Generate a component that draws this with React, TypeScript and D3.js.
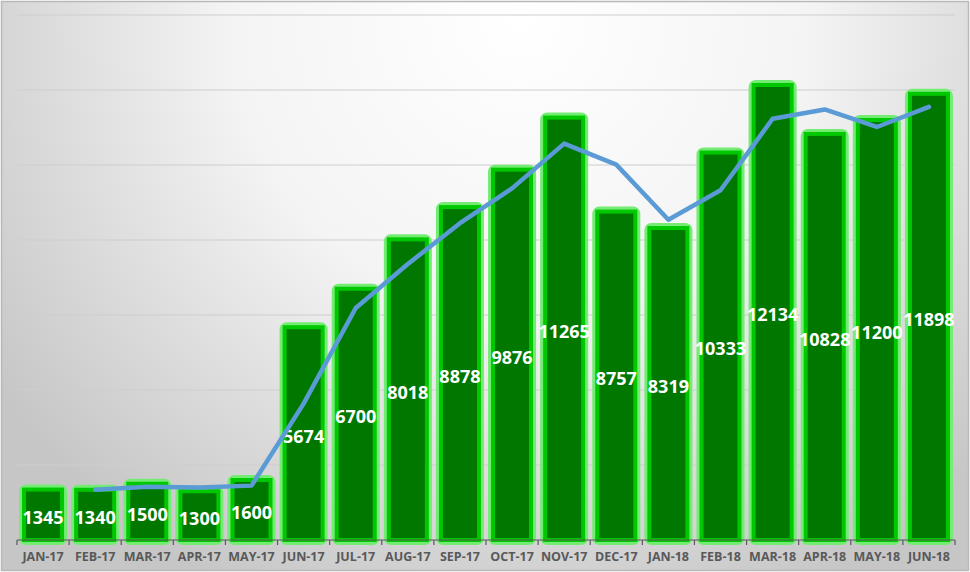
import React, { useEffect, useRef } from "react";
import * as d3 from "d3";

const months = [
  "JAN-17", "FEB-17", "MAR-17", "APR-17", "MAY-17", "JUN-17",
  "JUL-17", "AUG-17", "SEP-17", "OCT-17", "NOV-17", "DEC-17",
  "JAN-18", "FEB-18", "MAR-18", "APR-18", "MAY-18", "JUN-18",
];

const sales = [
  1345, 1340, 1500, 1300, 1600, 5674, 6700, 8018, 8878, 9876, 11265, 8757,
  8319, 10333, 12134, 10828, 11200, 11898,
];

// trend line, starts at FEB-17
const trendMonths = months.slice(1);
const trend = [
  1342, 1420, 1400, 1450, 3637, 6187, 7359, 8448, 9377, 10570, 10011, 8538,
  9326, 11233, 11481, 11014, 11549,
];

const gridTicks = [2000, 4000, 6000, 8000, 10000, 12000, 14000];

const W = 970;
const H = 572;

const App: React.FC = () => {
  const svgRef = useRef<SVGSVGElement>(null);

  useEffect(() => {
    if (!svgRef.current) return;
    const svg = d3.select(svgRef.current);
    svg.selectAll("*").remove();

    const margin = { top: 15, right: 15, bottom: 32, left: 17 };
    const innerW = W - margin.left - margin.right;
    const innerH = H - margin.top - margin.bottom;

    const defs = svg.append("defs");
    const grad = defs
      .append("radialGradient")
      .attr("id", "bg")
      .attr("gradientUnits", "userSpaceOnUse")
      .attr("cx", 520)
      .attr("cy", 20)
      .attr("r", 640);
    grad.append("stop").attr("offset", "0%").attr("stop-color", "#ffffff");
    grad.append("stop").attr("offset", "45%").attr("stop-color", "#f4f4f4");
    grad.append("stop").attr("offset", "100%").attr("stop-color", "#c6c6c6");

    svg
      .append("rect")
      .attr("x", 1.5)
      .attr("y", 1.5)
      .attr("width", W - 3)
      .attr("height", H - 3)
      .attr("fill", "url(#bg)")
      .attr("stroke", "#b8b8b8")
      .attr("stroke-width", 1.5);

    const g = svg
      .append("g")
      .attr("transform", `translate(${margin.left},${margin.top})`);

    const x = d3.scaleBand().domain(months).range([0, innerW]).padding(0);
    const y = d3.scaleLinear().domain([0, 14000]).range([innerH, 0]);

    // gridlines
    g.append("g")
      .selectAll("line")
      .data(gridTicks)
      .enter()
      .append("line")
      .attr("x1", 0)
      .attr("x2", innerW)
      .attr("y1", (d) => y(d))
      .attr("y2", (d) => y(d))
      .attr("stroke", "#cdcdcd")
      .attr("stroke-width", 1.2);

    const bw = x.bandwidth() * 0.73;
    const barX = (d: string) => x(d)! + (x.bandwidth() - bw) / 2;

    // glow
    g.append("g")
      .selectAll("rect")
      .data(sales)
      .enter()
      .append("rect")
      .attr("x", (_, i) => barX(months[i]))
      .attr("y", (d) => y(d))
      .attr("width", bw)
      .attr("height", (d) => innerH - y(d))
      .attr("rx", 2)
      .attr("fill", "none")
      .attr("stroke", "#74ec74")
      .attr("stroke-width", 10)
      .attr("stroke-linejoin", "round");

    g.append("g")
      .selectAll("rect")
      .data(sales)
      .enter()
      .append("rect")
      .attr("x", (_, i) => barX(months[i]))
      .attr("y", (d) => y(d))
      .attr("width", bw)
      .attr("height", (d) => innerH - y(d))
      .attr("fill", "#007800")
      .attr("stroke", "#00c800")
      .attr("stroke-width", 4);

    // value labels
    g.append("g")
      .selectAll("text")
      .data(sales)
      .enter()
      .append("text")
      .attr("x", (_, i) => x(months[i])! + x.bandwidth() / 2)
      .attr("y", (d) => (y(d) + innerH) / 2 + 2)
      .attr("text-anchor", "middle")
      .attr("dominant-baseline", "central")
      .attr("font-family", "'Open Sans', sans-serif")
      .attr("font-weight", "bold")
      .attr("font-size", 18)
      .attr("fill", "#ffffff")
      .text((d) => d);

    // trend line
    const line = d3
      .line<number>()
      .x((_, i) => x(trendMonths[i])! + x.bandwidth() / 2)
      .y((d) => y(d));

    g.append("path")
      .datum(trend)
      .attr("fill", "none")
      .attr("stroke", "#5b9bd5")
      .attr("stroke-width", 4.5)
      .attr("stroke-linejoin", "round")
      .attr("stroke-linecap", "round")
      .attr("d", line);

    // x axis
    const axis = g.append("g").attr("transform", `translate(0,${innerH})`);
    axis
      .append("line")
      .attr("x1", 0)
      .attr("x2", innerW)
      .attr("stroke", "#595959")
      .attr("stroke-width", 1.2);
    axis
      .selectAll("line.tick")
      .data(d3.range(months.length + 1))
      .enter()
      .append("line")
      .attr("class", "tick")
      .attr("x1", (i) => i * x.step())
      .attr("x2", (i) => i * x.step())
      .attr("y1", 0)
      .attr("y2", 5)
      .attr("stroke", "#595959")
      .attr("stroke-width", 1.2);
    axis
      .selectAll("text")
      .data(months)
      .enter()
      .append("text")
      .attr("x", (d) => x(d)! + x.bandwidth() / 2)
      .attr("y", 16)
      .attr("text-anchor", "middle")
      .attr("dominant-baseline", "central")
      .attr("font-family", "'Open Sans', sans-serif")
      .attr("font-weight", "bold")
      .attr("font-size", 12.5)
      .attr("fill", "#595959")
      .text((d) => d);
  }, []);

  return (
    <div style={{ position: "absolute", left: 0, top: 0 }}>
      <svg ref={svgRef} width={W} height={H} style={{ display: "block" }} />
    </div>
  );
};

export default App;
